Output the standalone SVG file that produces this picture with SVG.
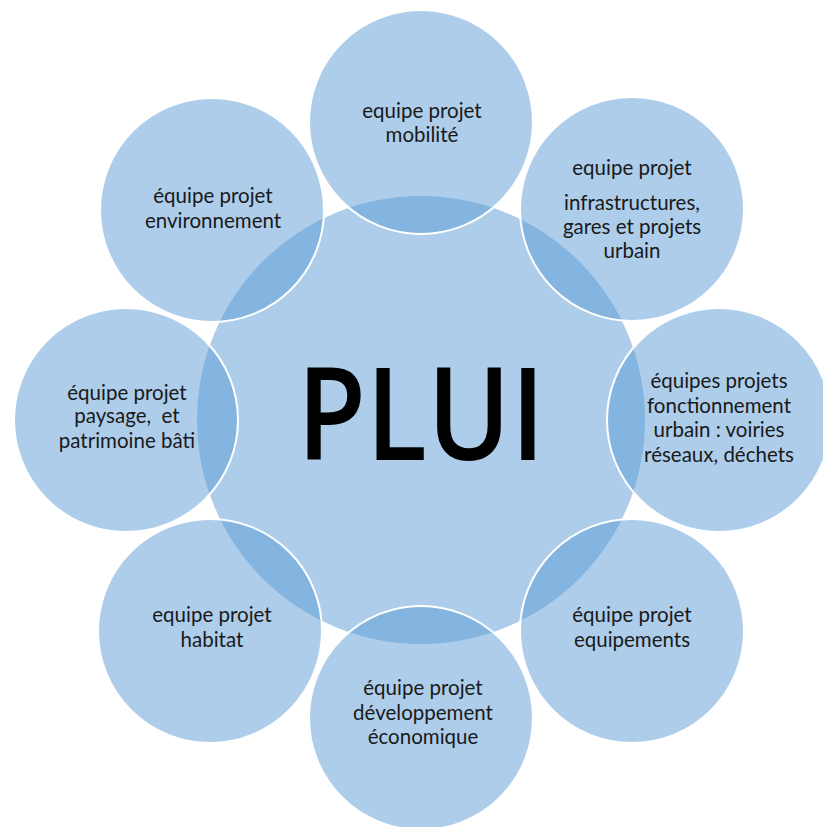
<svg xmlns="http://www.w3.org/2000/svg" width="823" height="827" viewBox="0 0 823 827">
  <style>
    .c { fill: #5B9BD5; fill-opacity: 0.5; }
    .o { fill: #5B9BD5; fill-opacity: 0.5; stroke: #FFFFFF; stroke-width: 2; }
    .t { font-family: Lato, "Liberation Sans", sans-serif; font-size: 20.5px; fill: #1A1A1A; text-anchor: middle; }
    .big { font-family: "Open Sans", "Liberation Sans", sans-serif; font-size: 128px; font-weight: 600; fill: #000000; text-anchor: middle; }
  </style>
  <rect width="823" height="827" fill="#FFFFFF"/>
  <g id="plui">
    <circle class="c" cx="421" cy="420" r="224"/>
    <text class="big" x="421" y="460" textLength="248" lengthAdjust="spacingAndGlyphs">PLUI</text>
  </g>
  <g id="mobilite">
    <circle class="o" cx="421" cy="122" r="112"/>
    <text class="t" x="422" y="118">equipe projet</text>
    <text class="t" x="422" y="142">mobilité</text>
  </g>
  <g id="infrastructures">
    <circle class="o" cx="632" cy="209" r="112"/>
    <text class="t" x="632" y="175">equipe projet</text>
    <text class="t" x="632" y="210">infrastructures,</text>
    <text class="t" x="632" y="234">gares et projets</text>
    <text class="t" x="632" y="258">urbain</text>
  </g>
  <g id="fonctionnement">
    <circle class="o" cx="719" cy="420" r="112"/>
    <text class="t" x="719" y="388">équipes projets</text>
    <text class="t" x="719" y="413">fonctionnement</text>
    <text class="t" x="719" y="437">urbain : voiries</text>
    <text class="t" x="719" y="462">réseaux, déchets</text>
  </g>
  <g id="equipements">
    <circle class="o" cx="632" cy="631" r="112"/>
    <text class="t" x="632" y="622">équipe projet</text>
    <text class="t" x="632" y="647">equipements</text>
  </g>
  <g id="developpement">
    <circle class="o" cx="421" cy="718" r="112"/>
    <text class="t" x="423" y="695">équipe projet</text>
    <text class="t" x="423" y="720">développement</text>
    <text class="t" x="423" y="744">économique</text>
  </g>
  <g id="habitat">
    <circle class="o" cx="210" cy="631" r="112"/>
    <text class="t" x="212" y="622">equipe projet</text>
    <text class="t" x="212" y="647">habitat</text>
  </g>
  <g id="paysage">
    <circle class="o" cx="126" cy="420" r="112"/>
    <text class="t" x="127" y="400">équipe projet</text>
    <text class="t" x="127" y="423" xml:space="preserve">paysage,  et</text>
    <text class="t" x="127" y="448">patrimoine bâti</text>
  </g>
  <g id="environnement">
    <circle class="o" cx="212" cy="210" r="112"/>
    <text class="t" x="213" y="203">équipe projet</text>
    <text class="t" x="213" y="228">environnement</text>
  </g>
  <g id="connectors"/>
</svg>
